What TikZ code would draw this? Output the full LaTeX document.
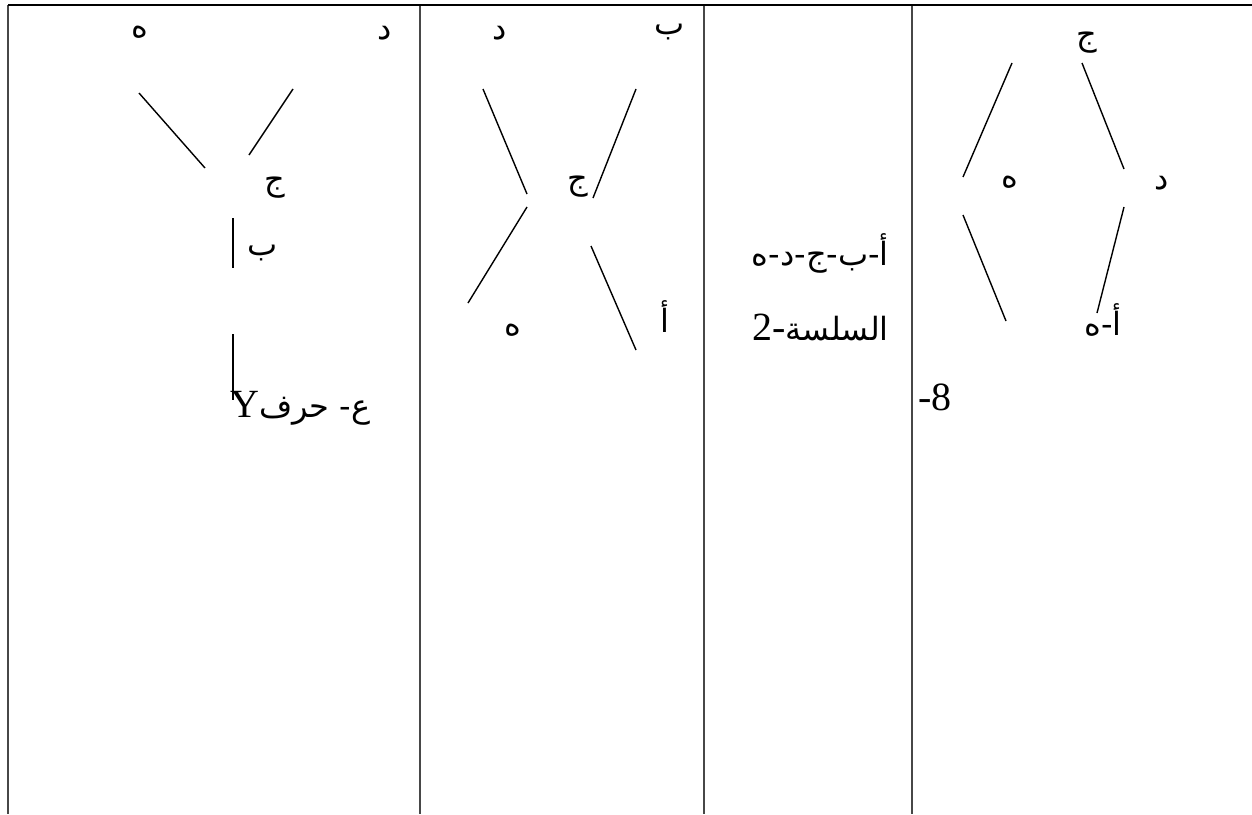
\documentclass[tikz,border=0pt]{standalone}
\usepackage{fontspec}
\setmainfont{Liberation Serif}
\newfontfamily\ar[Script=Arabic]{DejaVu Sans}
\TeXXeTstate=1
\newcommand{\arsz}{\ar\fontsize{32}{38}\selectfont}
\begin{document}
\begin{tikzpicture}[x=1pt,y=-1pt,
  lt/.style={font=\fontsize{40}{46}\selectfont, inner sep=0pt},
  al/.style={font=\arsz, inner sep=0pt},
  seg/.style={line width=1.4pt, black},
  grid/.style={line width=2pt, black!72}]
\useasboundingbox (0,0) rectangle (1252,814);
% table
\coordinate (tl) at (8,5);
\coordinate (tr) at (1252,5);
\coordinate (c1t) at (420,5);
\coordinate (c2t) at (704,5);
\coordinate (c3t) at (912,5);
\coordinate (bl) at (8,814);
\coordinate (c1b) at (420,814);
\coordinate (c2b) at (704,814);
\coordinate (c3b) at (912,814);
\draw[grid] (tl) -- (bl);
\draw[grid] (c1t) -- (c1b);
\draw[grid] (c2t) -- (c2b);
\draw[grid] (c3t) -- (c3b);
\draw[line width=2pt, black] (tl) -- (tr);
% cell 1
\node[al] (e1) at (140,32) {\beginR ه\endR};
\node[al] (d1) at (385,33) {\beginR د\endR};
\node[al] (j1) at (275,188) {\beginR ج\endR};
\node[al] (b1) at (263,253) {\beginR ب\endR};
\node[lt, anchor=base west] (ans) at (230,417) {Y{\arsz\beginR ع- حرف\endR}};
\coordinate (p1) at (139,93); \coordinate (p2) at (205,168);
\coordinate (p3) at (293,89); \coordinate (p4) at (249,155);
\coordinate (p5) at (233,218); \coordinate (p6) at (233,268);
\coordinate (p7) at (233,334); \coordinate (p8) at (233,400);
\draw[seg] (p1) -- (p2);
\draw[seg] (p3) -- (p4);
\draw[seg] (p5) -- (p6);
\draw[seg] (p7) -- (p8);
% cell 2
\node[al] (d2) at (500,33) {\beginR د\endR};
\node[al] (b2) at (670,32) {\beginR ب\endR};
\node[al] (j2) at (578,187) {\beginR ج\endR};
\node[al] (e2) at (513,330) {\beginR ه\endR};
\node[al] (a2) at (665,317) {\beginR أ\endR};
\coordinate (q1) at (483,89); \coordinate (q2) at (527,194);
\coordinate (q3) at (636,89); \coordinate (q4) at (593,198);
\coordinate (q5) at (527,207); \coordinate (q6) at (468,303);
\coordinate (q7) at (591,246); \coordinate (q8) at (636,350);
\draw[seg] (q1) -- (q2);
\draw[seg] (q3) -- (q4);
\draw[seg] (q5) -- (q6);
\draw[seg] (q7) -- (q8);
% cell 3
\node[al, anchor=east] (chain) at (889,253) {\beginR أ-ب-ج-د-ه\endR};
\node[lt, anchor=east] (ser) at (889,327) {2-{\arsz\beginR السلسة\endR}};
% cell 4
\node[al] (j4) at (1087,43) {\beginR ج\endR};
\node[al] (e4) at (1010,182) {\beginR ه\endR};
\node[al] (d4) at (1162,183) {\beginR د\endR};
\node[al] (ae4) at (1103,320) {\beginR أ-ه\endR};
\node[lt, anchor=west] (n8) at (918,397) {-8};
\coordinate (r1) at (1012,63); \coordinate (r2) at (963,177);
\coordinate (r3) at (1082,63); \coordinate (r4) at (1124,169);
\coordinate (r5) at (963,215); \coordinate (r6) at (1006,321);
\coordinate (r7) at (1124,207); \coordinate (r8) at (1097,313);
\draw[seg] (r1) -- (r2);
\draw[seg] (r3) -- (r4);
\draw[seg] (r5) -- (r6);
\draw[seg] (r7) -- (r8);
\end{tikzpicture}
\end{document}
